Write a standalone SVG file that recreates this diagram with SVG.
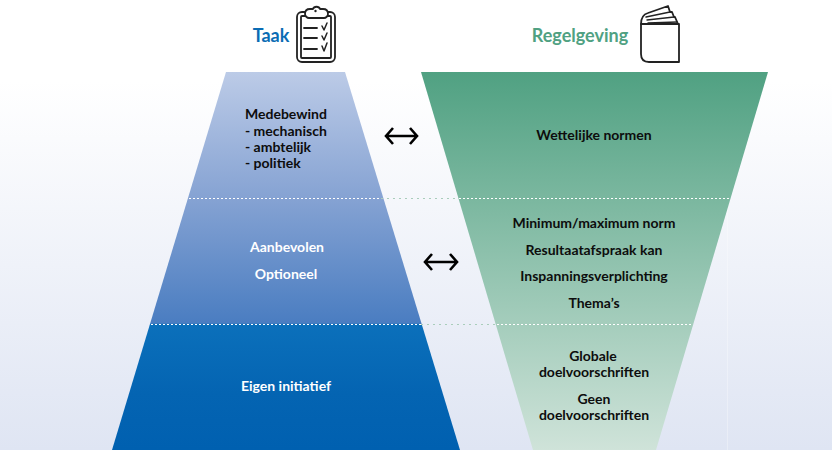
<svg xmlns="http://www.w3.org/2000/svg" width="832" height="450" viewBox="0 0 832 450">
<defs>
<linearGradient id="bg" x1="0" y1="0" x2="0" y2="1"><stop offset="0.18" stop-color="#fff"/><stop offset="1" stop-color="#dfe5f3"/></linearGradient>
<linearGradient id="blue" gradientUnits="userSpaceOnUse" x1="0" y1="72" x2="0" y2="450"><stop offset="0" stop-color="#bccbe7"/><stop offset="0.33" stop-color="#86a3d3"/><stop offset="0.665" stop-color="#4a7dc1"/><stop offset="0.667" stop-color="#0b70bb"/><stop offset="0.85" stop-color="#0464b2"/><stop offset="1" stop-color="#0060b0"/></linearGradient>
<linearGradient id="green" gradientUnits="userSpaceOnUse" x1="0" y1="72" x2="0" y2="450"><stop offset="0" stop-color="#50a182"/><stop offset="1" stop-color="#cfe3d9"/></linearGradient>
</defs>
<style>
text{font-family:"Lato","Liberation Sans",sans-serif;font-size:14px;font-weight:700;fill:#0d0d0d;text-anchor:middle}
.s{text-anchor:start}
.w{fill:#fff}
.h{font-size:18px;font-weight:700}
.dot{stroke:#fff;stroke-width:1.2;stroke-dasharray:2 2;fill:none}
.gap{stroke:#a9cdbb;stroke-width:1.2;stroke-dasharray:2 4;fill:none}
.ic{fill:none;stroke:#222;stroke-width:1.800;stroke-linejoin:round;stroke-linecap:round}
.arr{fill:none;stroke:#000;stroke-width:2.600}
</style>
<rect width="832" height="450" fill="url(#bg)"/>
<path d="M727.500 200V450" stroke="#fff" stroke-opacity=".3" fill="none"/>
<g id="taak">
<path d="M226 72H345L460 450H112Z" fill="url(#blue)"/>
<text class="h" x="271" y="42" style="fill:#0a6cb4">Taak</text>
<g class="ic">
<rect x="297" y="12" width="38" height="50" rx="5"/>
<rect x="301" y="16" width="30" height="42" rx="1"/>
<path d="M305 14c0-3 2-5 5-5h3c1-3 6-3 7 0h3c3 0 5 2 5 5 0 2-2 4-4 4h-15c-2 0-4-2-4-4z" fill="#fff"/>
<path d="M304 28h13M304 38h13M304 49h13"/>
<path d="M322 26l2 4 3-7M322 36l2 4 3-7M322 46l2 5 3-8" stroke-width="1.500"/>
</g>
<circle cx="315.500" cy="11" r="1.200" fill="#222"/>
<text class="s" x="245" y="119">Medebewind</text>
<text class="s" x="245" y="136">- mechanisch</text>
<text class="s" x="245" y="152">- ambtelijk</text>
<text class="s" x="245" y="168">- politiek</text>
<text class="w" x="287" y="252">Aanbevolen</text>
<text class="w" x="286" y="279">Optioneel</text>
<text class="w" x="286" y="391">Eigen initiatief</text>
</g>
<g id="regelgeving">
<path d="M421 72H768L656 450H533Z" fill="url(#green)"/>
<text class="h" x="580" y="42" style="fill:#50a182">Regelgeving</text>
<g class="ic">
<path d="M641 24V54Q641 62 649 62H679V24H641"/>
<path d="M641 24Q641 15 648 13L668 6L670 12L672 12L674 17L675 17L678 24"/>
<path d="M646 17L670 12M647 20L674 17M648 23L677 22" stroke-width="1.400"/>
</g>
<text x="594" y="140">Wettelijke normen</text>
<text x="594" y="228">Minimum/maximum norm</text>
<text x="594" y="255">Resultaatafspraak kan</text>
<text x="594" y="281">Inspanningsverplichting</text>
<text x="594" y="308">Thema’s</text>
<text x="593" y="361">Globale</text>
<text x="594" y="377">doelvoorschriften</text>
<text x="594" y="404">Geen</text>
<text x="594" y="420">doelvoorschriften</text>
</g>
<g id="connectors">
<path class="dot" d="M189 198.500H381M459 198.500H730M151 324.500H421M497 324.500H693"/>
<path class="gap" d="M381 198.500H459M421 324.500H497"/>
<path class="arr" d="M386 136H417M393 128l-7 8 7 8M410 128l7 8-7 8"/>
<path class="arr" d="M425 262H457M432 254l-7 8 7 8M450 254l7 8-7 8"/>
</g>
</svg>
